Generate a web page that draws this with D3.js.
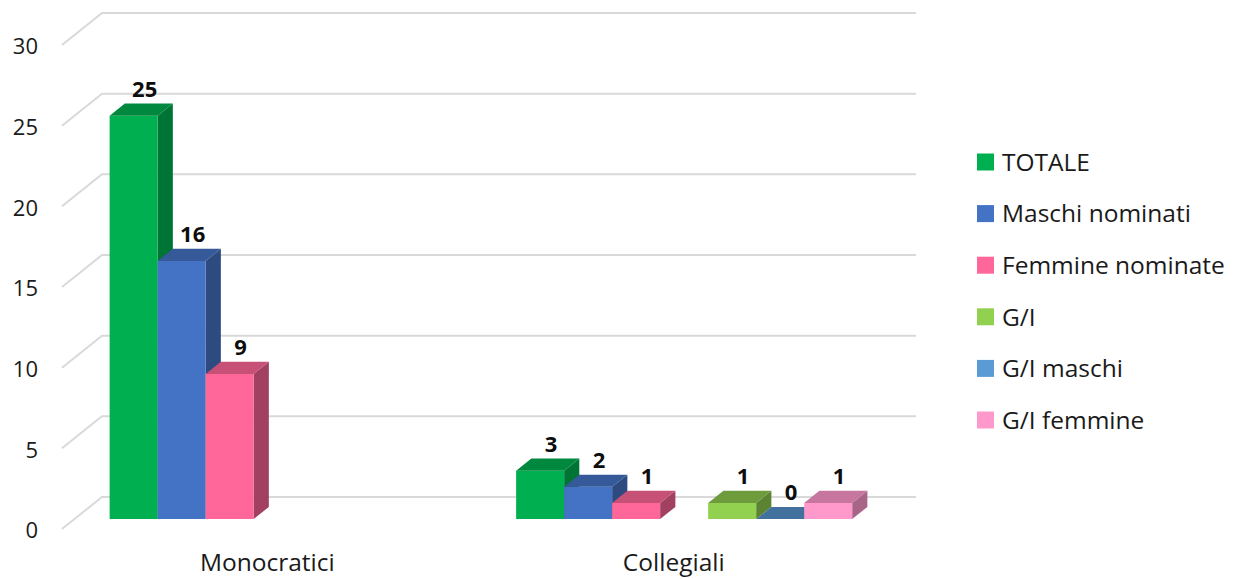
<!DOCTYPE html>
<html>
<head>
<meta charset="utf-8">
<script src="https://cdn.jsdelivr.net/npm/d3@7"></script>
<style>
  html, body { margin: 0; padding: 0; background: #ffffff; }
  svg { display: block; font-family: "Open Sans", "Noto Sans", sans-serif; }
</style>
</head>
<body>
<svg id="chart" width="1237" height="579"></svg>
<script>
// Categories and series
const categories = ["Monocratici", "Collegiali"];
const seriesNames = ["TOTALE", "Maschi nominati", "Femmine nominate", "G/I", "G/I maschi", "G/I femmine"];
// slot order inside each group (a spacer sits between the two blocks of series)
const slotOrder = ["TOTALE", "Maschi nominati", "Femmine nominate", "spacer", "G/I", "G/I maschi", "G/I femmine"];
const monocraticiValues = [25, 16, 9, null, null, null];
const collegialiValues = [3, 2, 1, 1, 0, 1];
const yTicks = [0, 5, 10, 15, 20, 25, 30];
const seriesColors = ["#00B050", "#4472C4", "#FF6699", "#92D050", "#5B9BD5", "#FF99CC"];

const valuesByCategory = [monocraticiValues, collegialiValues];

const svg = d3.select("#chart");

// 3D projection: depth z in [0,1] shifts right and up
const depthDX = 40, depthDY = -32;
const proj = (x, y, z) => [x + depthDX * z, y + depthDY * z];

// front-plane scales
const x0 = d3.scaleBand().domain(categories).range([62, 875]).paddingInner(0).paddingOuter(0);
const x1 = d3.scaleBand().domain(slotOrder).range([0, x0.bandwidth()]).paddingInner(0).paddingOuter(0.734);
const y = d3.scaleLinear().domain([0, 30]).range([529, 45]);

// gridlines: diagonal side wall + horizontal back wall
const gridG = svg.append("g");
yTicks.forEach(t => {
  const a = proj(62, y(t), 0), b = proj(62, y(t), 1), c = [916, b[1]];
  gridG.append("path")
    .attr("d", d3.line()([a, b, c]))
    .attr("fill", "none")
    .attr("stroke", "#d9d9d9")
    .attr("stroke-width", 2);
});

// y tick labels
svg.append("g").selectAll("text").data(yTicks).join("text")
  .attr("x", 38)
  .attr("y", d => y(d) + 1.5)
  .attr("dy", "0.36em")
  .attr("text-anchor", "end")
  .attr("font-size", 22)
  .attr("fill", "#1a1a1a")
  .text(d => d);

// bars
const zFront = 0.31, zBack = 0.69;
const shade = (c, k) => { const o = d3.rgb(c); return d3.rgb(o.r * k, o.g * k, o.b * k).formatHex(); };
const barColor = ["#00B050", "#4472C4", "#FF6699", "#92D050", "#41719C", "#FF99CC"];
const topK = [0.78, 0.78, 0.78, 0.75, 1.0, 0.78];
const sideK = [0.66, 0.66, 0.63, 0.63, 0.85, 0.66];

const barsG = svg.append("g");
const labelsG = svg.append("g");
categories.forEach((cat, ci) => {
  seriesNames.forEach((name, si) => {
    const v = valuesByCategory[ci][si];
    if (v === null || v === undefined) return;
    const xl = x0(cat) + x1(name), xr = xl + x1.bandwidth();
    const yb = y(0), yt = y(v);
    const fbl = proj(xl, yb, zFront), fbr = proj(xr, yb, zFront);
    const ftl = proj(xl, yt, zFront), ftr = proj(xr, yt, zFront);
    const btl = proj(xl, yt, zBack), btr = proj(xr, yt, zBack), bbr = proj(xr, yb, zBack);
    const col = barColor[si];
    const g = barsG.append("g");
    // side face
    g.append("path").attr("d", d3.line()([fbr, ftr, btr, bbr]) + "Z").attr("fill", shade(col, sideK[si]));
    // front face
    if (v > 0) g.append("path").attr("d", d3.line()([fbl, fbr, ftr, ftl]) + "Z").attr("fill", col);
    // top face
    g.append("path").attr("d", d3.line()([ftl, ftr, btr, btl]) + "Z").attr("fill", shade(col, topK[si]));
    // value label
    labelsG.append("text")
      .attr("x", (ftl[0] + ftr[0]) / 2 + 11)
      .attr("y", btl[1] - 7)
      .attr("text-anchor", "middle")
      .attr("font-size", 22)
      .attr("font-weight", "bold")
      .attr("fill", "#0d0d0d")
      .text(v);
  });
});

// category labels
svg.append("g").selectAll("text").data(categories).join("text")
  .attr("x", d => x0(d) + x0.bandwidth() / 2 + 2)
  .attr("y", 571)
  .attr("text-anchor", "middle")
  .attr("font-size", 24.5)
  .attr("fill", "#1a1a1a")
  .text(d => d);

// legend
const legend = svg.append("g").selectAll("g").data(seriesNames).join("g")
  .attr("transform", (d, i) => `translate(977, ${162 + i * 51.6})`);
legend.append("rect")
  .attr("x", 0).attr("y", -8.5).attr("width", 17).attr("height", 17)
  .attr("fill", (d, i) => seriesColors[i]);
legend.append("text")
  .attr("x", 25).attr("y", 0).attr("dy", "0.36em")
  .attr("font-size", 24.5)
  .attr("fill", "#1a1a1a")
  .text(d => d);
</script>
</body>
</html>
